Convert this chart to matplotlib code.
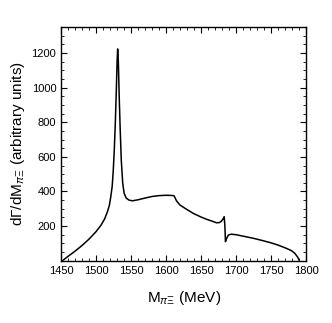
import numpy as np
import matplotlib.pyplot as plt
from matplotlib.ticker import MultipleLocator

plt.rcParams['font.family'] = ['Liberation Sans', 'DejaVu Sans']
plt.rcParams['mathtext.fontset'] = 'custom'
plt.rcParams['mathtext.rm'] = 'Liberation Sans'
plt.rcParams['mathtext.it'] = 'Liberation Sans:italic'

# invariant mass (MeV) and spectrum (arbitrary units)
mass = [1452, 1460, 1470, 1480, 1490, 1500, 1507, 1512, 1516, 1519,
        1521, 1523, 1524.5, 1526, 1527.5, 1529, 1530, 1530.8, 1531.8, 1533,
        1534.5, 1536, 1538, 1540, 1543, 1547, 1552, 1560, 1570, 1580,
        1590, 1600, 1608, 1611.4, 1615, 1620, 1630, 1639, 1650, 1658,
        1666, 1672, 1676, 1679, 1681.5, 1683, 1684, 1684.8, 1686, 1689,
        1693, 1700, 1712, 1725, 1737, 1749, 1760, 1772, 1779, 1784,
        1788, 1790]
rate = [0, 25, 55, 88, 125, 168, 205, 240, 280, 320,
        370, 430, 520, 640, 800, 1000, 1150, 1224, 1150, 950,
        750, 580, 450, 390, 362, 350, 346, 352, 362, 371,
        376, 378, 377, 375, 345, 321, 295, 273, 252, 239,
        228, 219, 220, 228, 242, 254, 200, 110, 125, 148,
        153, 150, 140, 129, 117, 104, 90, 71, 58, 42,
        20, 4]

fig = plt.figure(figsize=(3.32, 3.23), dpi=100)
ax = fig.add_axes([0.184, 0.193, 0.738, 0.723])
ax.plot(mass, rate, color='black', lw=1.1)

ax.set_xlim(1450, 1800)
ax.set_ylim(0, 1350)
ax.xaxis.set_major_locator(MultipleLocator(50))
ax.xaxis.set_minor_locator(MultipleLocator(10))
ax.set_yticks([200, 400, 600, 800, 1000, 1200])
ax.yaxis.set_minor_locator(MultipleLocator(50))
ax.tick_params(which='both', direction='in', top=True, right=True, labelsize=8)
ax.tick_params(which='major', length=4, width=0.8)
ax.tick_params(which='minor', length=2, width=0.6)
for s in ax.spines.values():
    s.set_linewidth(1.0)

ax.set_xlabel(r'M$_{\pi\Xi}$ (MeV)', fontsize=11, labelpad=10)
ax.set_ylabel(r'd$\Gamma$/dM$_{\pi\Xi}$ (arbitrary units)', fontsize=11, labelpad=3)

fig.savefig('out.png', dpi=100)
